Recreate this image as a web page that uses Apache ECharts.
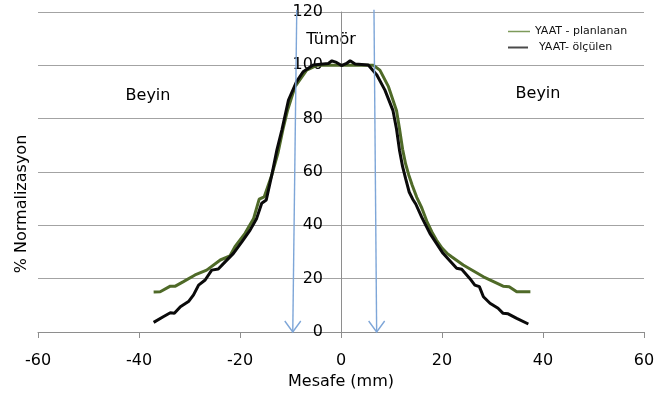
<!DOCTYPE html>
<html>
<head>
<meta charset="utf-8">
<script src="https://cdn.jsdelivr.net/npm/echarts@6/dist/echarts.min.js"></script>
<style>
  html, body { margin: 0; padding: 0; background: #fff; }
  #chart { width: 656px; height: 394px; }
</style>
</head>
<body>
<div id="chart"></div>
<script>
// Planned dose profile (YAAT - planlanan): distance in mm, normalised dose in %
const planX = [-37.1, -35.8, -33.8, -32.8, -31.2, -28.9, -26.6, -23.9, -22.0, -21.0,
               -19.0, -17.3, -16.2, -15.2, -13.7, -12.5, -11.5, -10.6, -9.1, -6.8,
               -4.8, 0.0, 6.4, 7.7, 9.4, 11.0, 11.6, 12.2, 12.8, 13.4,
               14.1, 15.0, 16.0, 17.0, 18.0, 18.9, 20.0, 21.0, 21.9, 24.2,
               28.2, 32.1, 33.3, 34.8, 37.5];
const planY = [15.0, 15.1, 17.2, 17.2, 18.9, 21.4, 23.2, 27.0, 28.5, 32.0,
               37.0, 42.6, 49.8, 50.7, 58.9, 67.0, 76.0, 83.0, 92.0, 98.2,
               100.0, 100.0, 100.0, 98.2, 92.0, 83.0, 76.0, 68.5, 63.0, 59.0,
               55.0, 50.5, 46.5, 41.5, 37.5, 34.5, 31.5, 29.5, 28.2, 25.1,
               20.7, 17.2, 17.0, 15.1, 15.1];

// Measured dose profile (YAAT- ölçülen)
const measX = [-37.1, -35.2, -33.8, -33.0, -31.8, -30.2, -29.2, -28.2, -26.9, -25.6,
               -24.3, -22.9, -21.3, -19.6, -18.0, -16.7, -15.7, -14.8, -13.7, -12.7,
               -11.7, -10.4, -8.8, -7.5, -5.5, -2.5, -1.8, -0.9, 0.1, 1.1,
               1.8, 2.8, 5.4, 7.1, 8.7, 10.3, 11.0, 11.6, 12.2, 12.8,
               13.5, 14.2, 14.8, 16.0, 17.6, 20.2, 22.9, 23.9, 25.5, 26.5,
               27.4, 28.2, 29.5, 31.1, 32.1, 33.1, 34.8, 37.1];
const measY = [3.6, 5.7, 7.2, 7.0, 9.5, 11.4, 13.9, 17.6, 19.5, 23.2,
               23.6, 26.4, 29.5, 33.9, 38.2, 42.6, 48.3, 49.5, 58.9, 68.2,
               75.8, 87.0, 93.9, 97.6, 100.1, 100.7, 101.7, 101.1, 99.9, 100.7,
               101.7, 100.5, 100.1, 96.4, 90.7, 83.0, 76.0, 68.0, 62.0, 57.5,
               52.5, 49.8, 48.0, 43.0, 37.0, 29.5, 23.9, 23.5, 20.1, 17.6,
               17.0, 13.2, 10.8, 8.9, 7.0, 6.8, 5.1, 3.0];

// Tumour boundary arrows: [x at top, y at top, x at tip, y at tip]
const boundaryArrows = [
  [-8.76, 120.8, -9.55, 0],
  [6.53, 120.8, 7.06, 0]
];

// Axis ticks
const xTicks = [-60, -40, -20, 0, 20, 40, 60];
const yTicks = [0, 20, 40, 60, 80, 100, 120];

const seriesNames = ['YAAT - planlanan', 'YAAT- ölçülen'];

const FONT = 'DejaVu Sans';
const AXIS_GRAY = '#8e8e8e';
const GRID_GRAY = '#a3a3a3';

const GRID = { left: 38, right: 12, top: 12, bottom: 62 };
const CHART_W = 656;

const toPairs = (xs, ys) => xs.map((x, i) => [x, ys[i]]);

// The vertical axis sits at x = 0, i.e. halfway across the plot area
const plotWidth = CHART_W - GRID.left - GRID.right;
const yAxisShift = -plotWidth * (0 - xTicks[0]) / (xTicks[xTicks.length - 1] - xTicks[0]);

const chart = echarts.init(document.getElementById('chart'), null, { renderer: 'canvas' });

chart.setOption({
  animation: false,
  backgroundColor: '#ffffff',
  grid: Object.assign({ outerBoundsMode: 'none' }, GRID),
  legend: [
    {
      data: [{ name: seriesNames[0], icon: 'rect', itemStyle: { color: '#7d9a5a' } }],
      left: 503, top: 21, itemWidth: 22, itemHeight: 1.5,
      selectedMode: false,
      textStyle: { fontFamily: FONT, fontSize: 11, color: '#111' }
    },
    {
      data: [{ name: seriesNames[1], icon: 'rect', itemStyle: { color: '#4a4a4a' } }],
      left: 503, top: 37, itemWidth: 20, itemHeight: 2,
      selectedMode: false,
      textStyle: { fontFamily: FONT, fontSize: 11, color: '#111', padding: [0, 0, 0, 6] }
    }
  ],
  xAxis: {
    type: 'value',
    min: xTicks[0],
    max: xTicks[xTicks.length - 1],
    interval: xTicks[1] - xTicks[0],
    name: 'Mesafe (mm)',
    nameLocation: 'middle',
    nameGap: 36,
    nameTextStyle: { fontFamily: FONT, fontSize: 16, color: '#000' },
    axisLine: { show: true, onZero: false, lineStyle: { color: AXIS_GRAY, width: 1 } },
    axisTick: { show: true, length: 6, lineStyle: { color: AXIS_GRAY } },
    axisLabel: { fontFamily: FONT, fontSize: 16, color: '#000', margin: 21 },
    splitLine: { show: false }
  },
  yAxis: {
    type: 'value',
    min: yTicks[0],
    max: yTicks[yTicks.length - 1],
    interval: yTicks[1] - yTicks[0],
    offset: yAxisShift,
    axisLine: { show: true, onZero: false, lineStyle: { color: AXIS_GRAY, width: 1 } },
    axisTick: { show: false },
    axisLabel: { fontFamily: FONT, fontSize: 16, color: '#000', margin: 18 },
    splitLine: { show: true, lineStyle: { color: GRID_GRAY, width: 1 } }
  },
  graphic: [
    {
      type: 'text', x: 22, y: 204, rotation: Math.PI / 2,
      style: { text: '% Normalizasyon', fontFamily: FONT, fontSize: 16, fill: '#000',
               textAlign: 'center', textVerticalAlign: 'middle' }
    },
    {
      type: 'text', x: 331, y: 40,
      style: { text: 'Tümör', fontFamily: FONT, fontSize: 16, fill: '#000',
               textAlign: 'center', textVerticalAlign: 'middle' }
    },
    {
      type: 'text', x: 148, y: 96,
      style: { text: 'Beyin', fontFamily: FONT, fontSize: 16, fill: '#000',
               textAlign: 'center', textVerticalAlign: 'middle' }
    },
    {
      type: 'text', x: 538, y: 94,
      style: { text: 'Beyin', fontFamily: FONT, fontSize: 16, fill: '#000',
               textAlign: 'center', textVerticalAlign: 'middle' }
    }
  ],
  series: [
    {
      name: seriesNames[0],
      type: 'line',
      data: toPairs(planX, planY),
      symbol: 'none',
      lineStyle: { color: '#4f6a28', width: 3 },
      itemStyle: { color: '#4f6a28' },
      z: 3
    },
    {
      name: seriesNames[1],
      type: 'line',
      data: toPairs(measX, measY),
      symbol: 'none',
      lineStyle: { color: '#0a0a0a', width: 3 },
      itemStyle: { color: '#0a0a0a' },
      z: 4
    },
    {
      name: 'boundary',
      type: 'custom',
      clip: false,
      silent: true,
      z: 5,
      encode: { x: [0, 2], y: [1, 3] },
      data: boundaryArrows,
      renderItem: function (params, api) {
        const top = api.coord([api.value(0), api.value(1)]);
        const tip = api.coord([api.value(2), api.value(3)]);
        const stroke = { stroke: '#7ea6d8', lineWidth: 1.4, fill: null };
        return {
          type: 'group',
          children: [
            { type: 'line', shape: { x1: top[0], y1: top[1], x2: tip[0], y2: tip[1] }, style: stroke },
            { type: 'polyline', shape: { points: [[tip[0] - 8, tip[1] - 11], [tip[0], tip[1]], [tip[0] + 8, tip[1] - 11]] }, style: stroke }
          ]
        };
      }
    }
  ]
});
</script>
</body>
</html>
